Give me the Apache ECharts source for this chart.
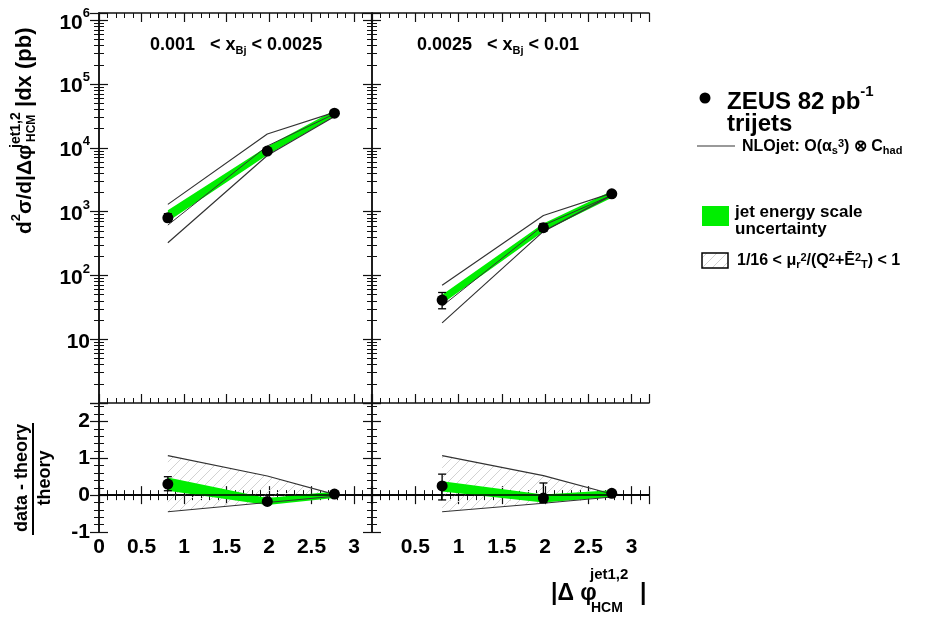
<!DOCTYPE html>
<html><head><meta charset="utf-8">
<script src="https://cdn.jsdelivr.net/npm/echarts@6/dist/echarts.min.js"></script>
<style>html,body{margin:0;padding:0;background:#fff}#c{width:927px;height:619px}</style>
</head><body><div id="c"></div>
<script>
// ---------- data ----------
const xBins = [0.81, 1.98, 2.77];
const xTicks = [0, 0.5, 1, 1.5, 2, 2.5, 3];
const panelTitles = [['0.001', '0.0025'], ['0.0025', '0.01']];
// top-left: cross sections (pb)
const dataTL = [800, 8900, 35000];
const errLoTL = [700, 8400, 33500];
const errHiTL = [930, 9400, 36500];
const nloTL = [615, 10700, 34000];
const nloUpTL = [1300, 16500, 36000];
const nloDnTL = [325, 7600, 31000];
const jesLoTL = [700, 7700, 31000];
const jesHiTL = [1050, 10500, 39000];
// top-right
const dataTR = [41, 560, 1900];
const errLoTR = [30, 490, 1800];
const errHiTR = [54, 650, 2000];
const nloTR = [33, 610, 1810];
const nloUpTR = [70, 870, 1950];
const nloDnTR = [18, 490, 1800];
const jesLoTR = [36, 490, 1650];
const jesHiTR = [50, 650, 2100];
// bottom-left: (data - theory)/theory
const ratioBL = [0.3, -0.17, 0.03];
const rErrLoBL = [0.12, -0.23, -0.02];
const rErrHiBL = [0.5, -0.11, 0.08];
const rJesLoBL = [0.12, -0.27, -0.08];
const rJesHiBL = [0.48, -0.08, 0.1];
const scaleUpBL = [1.07, 0.52, 0.02];
const scaleDnBL = [-0.45, -0.2, -0.03];
// bottom-right
const ratioBR = [0.25, -0.08, 0.05];
const rErrLoBR = [-0.13, -0.2, 0.0];
const rErrHiBR = [0.57, 0.33, 0.1];
const rJesLoBR = [0.1, -0.2, -0.05];
const rJesHiBR = [0.38, 0.02, 0.13];
const scaleUpBR = [1.07, 0.53, 0.03];
const scaleDnBR = [-0.45, -0.22, -0.05];

// ---------- helpers ----------
const FF = '"Liberation Sans", Arial, Helvetica, sans-serif';
const GREEN = '#00ee00';
const pc = document.createElement('canvas');
pc.width = 10; pc.height = 10;
(function(){const c = pc.getContext('2d'); c.strokeStyle = '#d2d2d2'; c.lineWidth = 1;
 c.beginPath(); c.moveTo(0, 10); c.lineTo(10, 0); c.moveTo(-1, 1); c.lineTo(1, -1); c.moveTo(9, 11); c.lineTo(11, 9); c.stroke();})();
const hatch = {image: pc, repeat: 'repeat'};

const grids = [
  {left: 99, top: 13, width: 272, height: 390},
  {left: 372, top: 13, width: 277, height: 390},
  {left: 99, top: 403, width: 272, height: 129},
  {left: 372, top: 403, width: 277, height: 129}
];
const lineAx = {show: true, lineStyle: {color: '#111', width: 1.5}};
const tickAx = {show: true, inside: true, length: 9, lineStyle: {color: '#111', width: 1.2}};
const minorAx = (n) => ({show: true, splitNumber: n, length: 5, lineStyle: {color: '#111', width: 1}});
const xAxes = [], yAxes = [];
function xFmt(hideZero) {
  return v => {
    if (Math.abs(v * 2 - Math.round(v * 2)) > 1e-6) return '';
    if (hideZero && Math.abs(v) < 1e-9) return '';
    return xTicks.includes(v) ? String(v) : '';
  };
}
for (let g = 0; g < 4; g++) {
  ['bottom', 'top'].forEach((pos, k) => {
    xAxes.push({gridIndex: g, type: 'value', min: 0, max: 3.2, interval: 0.5, position: pos,
      axisLine: lineAx, axisTick: tickAx, minorTick: minorAx(5), splitLine: {show: false},
      axisLabel: {show: g >= 2 && k === 0, formatter: xFmt(g === 3), margin: 5,
        fontSize: 21, fontWeight: 'bold', fontFamily: FF, color: '#000'}});
  });
  ['left', 'right'].forEach((pos, k) => {
    if (g < 2) {
      yAxes.push({gridIndex: g, type: 'log', logBase: 10, min: 1, max: 1.3e6, position: pos,
        axisLine: lineAx, axisTick: tickAx, minorTick: minorAx(9), splitLine: {show: false},
        axisLabel: {show: g === 0 && k === 0, margin: 9,
          formatter: v => { const l = Math.log10(v), n = Math.round(l);
            if (Math.abs(l - n) > 0.01 || n === 0) return '';
            if (n === 1) return '{b|10}';
            return '{b|10}{s|' + n + '}'; },
          rich: {b: {fontSize: 21, fontWeight: 'bold', fontFamily: FF, color: '#000', lineHeight: 26, verticalAlign: 'bottom'},
                 s: {fontSize: 13, fontWeight: 'bold', fontFamily: FF, color: '#000', lineHeight: 13, verticalAlign: 'top'}}}});
    } else {
      yAxes.push({gridIndex: g, type: 'value', min: -1, max: 2.5, interval: 1, position: pos,
        axisLine: lineAx, axisTick: tickAx, minorTick: minorAx(5), splitLine: {show: false},
        axisLabel: {show: g === 2 && k === 0, margin: 9,
          formatter: v => Number.isInteger(v) ? String(v) : '',
          fontSize: 21, fontWeight: 'bold', fontFamily: FF, color: '#000'}});
    }
  });
}

function band(g, lo, hi, style, z) {
  return {type: 'custom', xAxisIndex: 2 * g, yAxisIndex: 2 * g, z, silent: true, clip: true,
    data: xBins.map((x, i) => [x, lo[i], hi[i]]),
    renderItem(params, api) {
      if (params.dataIndex !== 0) return null;
      const pts = [];
      xBins.forEach((x, i) => pts.push(api.coord([x, hi[i]])));
      for (let i = xBins.length - 1; i >= 0; i--) pts.push(api.coord([xBins[i], lo[i]]));
      return {type: 'polygon', shape: {points: pts}, style};
    }};
}
function line(g, ys, color, width, z) {
  return {type: 'line', xAxisIndex: 2 * g, yAxisIndex: 2 * g, z, silent: true, symbol: 'none',
    data: xBins.map((x, i) => [x, ys[i]]), lineStyle: {color, width}, animation: false};
}
function errs(g, lo, hi) {
  return {type: 'custom', xAxisIndex: 2 * g, yAxisIndex: 2 * g, z: 8, silent: true,
    data: xBins.map((x, i) => [x, lo[i], hi[i]]),
    renderItem(params, api) {
      const x = api.value(0);
      const a = api.coord([x, api.value(1)]), b = api.coord([x, api.value(2)]);
      const st = {stroke: '#000', lineWidth: 1.3};
      return {type: 'group', children: [
        {type: 'line', shape: {x1: a[0], y1: a[1], x2: b[0], y2: b[1]}, style: st},
        {type: 'line', shape: {x1: a[0] - 4, y1: a[1], x2: a[0] + 4, y2: a[1]}, style: st},
        {type: 'line', shape: {x1: b[0] - 4, y1: b[1], x2: b[0] + 4, y2: b[1]}, style: st}]};
    }};
}
function pts(g, ys, zero) {
  const s = {type: 'scatter', xAxisIndex: 2 * g, yAxisIndex: 2 * g, z: 10, silent: true,
    symbol: 'circle', symbolSize: 11, itemStyle: {color: '#000', opacity: 1},
    data: xBins.map((x, i) => [x, ys[i]])};
  if (zero) s.markLine = {silent: true, symbol: 'none', label: {show: false}, animation: false,
    lineStyle: {color: '#000', width: 1.5, type: 'solid'}, data: [{yAxis: 0}]};
  return s;
}

const series = [
  band(0, jesLoTL, jesHiTL, {fill: GREEN}, 3),
  line(0, nloTL, '#333', 1, 4), line(0, nloUpTL, '#333', 1.2, 4), line(0, nloDnTL, '#333', 1.2, 4),
  errs(0, errLoTL, errHiTL), pts(0, dataTL),
  band(1, jesLoTR, jesHiTR, {fill: GREEN}, 3),
  line(1, nloTR, '#333', 1, 4), line(1, nloUpTR, '#333', 1.2, 4), line(1, nloDnTR, '#333', 1.2, 4),
  errs(1, errLoTR, errHiTR), pts(1, dataTR),
  band(2, scaleDnBL, scaleUpBL, {fill: hatch}, 1),
  line(2, scaleUpBL, '#333', 1.2, 4), line(2, scaleDnBL, '#333', 1.2, 4),
  band(2, rJesLoBL, rJesHiBL, {fill: GREEN}, 3),
  errs(2, rErrLoBL, rErrHiBL), pts(2, ratioBL, true),
  band(3, scaleDnBR, scaleUpBR, {fill: hatch}, 1),
  line(3, scaleUpBR, '#333', 1.2, 4), line(3, scaleDnBR, '#333', 1.2, 4),
  band(3, rJesLoBR, rJesHiBR, {fill: GREEN}, 3),
  errs(3, rErrLoBR, rErrHiBR), pts(3, ratioBR, true)
];

// ---------- text ----------
const R = {
  m: {fontSize: 21, fontWeight: 'bold', fontFamily: FF, fill: '#000', lineHeight: 26, verticalAlign: 'bottom'},
  s: {fontSize: 13, fontWeight: 'bold', fontFamily: FF, fill: '#000', lineHeight: 13, verticalAlign: 'top'},
  t: {fontSize: 18, fontWeight: 'bold', fontFamily: FF, fill: '#000', lineHeight: 20, verticalAlign: 'top'},
  u: {fontSize: 11, fontWeight: 'bold', fontFamily: FF, fill: '#000', lineHeight: 11, verticalAlign: 'bottom', padding: [15, 0, 0, 0]},
  L: {fontSize: 24, fontWeight: 'bold', fontFamily: FF, fill: '#000', lineHeight: 30, verticalAlign: 'bottom'},
  Ls: {fontSize: 15, fontWeight: 'bold', fontFamily: FF, fill: '#000', lineHeight: 15, verticalAlign: 'top'},
  n: {fontSize: 16, fontWeight: 'bold', fontFamily: FF, fill: '#000', lineHeight: 18, verticalAlign: 'middle'},
  nsup: {fontSize: 11, fontWeight: 'bold', fontFamily: FF, fill: '#000', lineHeight: 10, verticalAlign: 'top'},
  nsub: {fontSize: 11, fontWeight: 'bold', fontFamily: FF, fill: '#000', lineHeight: 10, verticalAlign: 'bottom'}
};
function txt(x, y, text, opt) {
  opt = opt || {};
  return {type: 'text', x, y, rotation: opt.rot || 0, silent: true, z: 50,
    style: {text, rich: R, fontSize: opt.fs || 16, fontWeight: 'bold', fontFamily: FF, fill: '#000',
      align: opt.align || 'left', verticalAlign: opt.va || 'middle'}};
}
const rot = Math.PI / 2;
const graphics = [
  // y title top
  txt(23, 234, '{m|d}{s|2}{m|σ/d|Δφ}', {rot}),
  txt(16, 148, 'jet1,2', {rot, fs: 14}),
  txt(32, 142, 'HCM', {rot, fs: 12}),
  txt(25, 107, '|dx (pb)', {rot, fs: 22}),
  // ratio title
  txt(22, 478, 'data - theory', {rot, fs: 18, align: 'center'}),
  {type: 'line', shape: {x1: 33, y1: 423, x2: 33, y2: 535}, style: {stroke: '#000', lineWidth: 2}, silent: true},
  txt(45, 478, 'theory', {rot, fs: 18, align: 'center'}),
  // panel titles
  txt(150, 46, '{t|' + panelTitles[0][0] + '   < x}{u|Bj}{t| < ' + panelTitles[0][1] + '}'),
  txt(417, 46, '{t|' + panelTitles[1][0] + '   < x}{u|Bj}{t| < ' + panelTitles[1][1] + '}'),
  // x title
  txt(551, 594, '|Δ φ', {fs: 23}),
  txt(590, 575, 'jet1,2', {fs: 15}),
  txt(591, 608, 'HCM', {fs: 14}),
  txt(640, 594, '|', {fs: 23}),
  // legend
  {type: 'circle', shape: {cx: 705, cy: 98, r: 5.5}, style: {fill: '#000'}, silent: true},
  txt(727, 99, '{L|ZEUS 82 pb}{Ls|-1}'),
  txt(727, 124, 'trijets', {fs: 24}),
  {type: 'line', shape: {x1: 697, y1: 146, x2: 735, y2: 146}, style: {stroke: '#999', lineWidth: 2}, silent: true},
  txt(742, 147, '{n|NLOjet: O(α}{nsub|s}{nsup|3}{n|) ⊗ C}{nsub|had}'),
  {type: 'rect', shape: {x: 702, y: 206, width: 27, height: 20}, style: {fill: GREEN}, silent: true},
  txt(735, 212, 'jet energy scale', {fs: 17}),
  txt(735, 229, 'uncertainty', {fs: 17}),
  {type: 'rect', shape: {x: 702, y: 253, width: 26, height: 15}, style: {fill: hatch, stroke: '#000', lineWidth: 1.5}, silent: true},
  txt(737, 261, '{n|1/16 < μ}{nsub|r}{nsup|2}{n|/(Q}{nsup|2}{n|+Ē}{nsup|2}{nsub|T}{n|) < 1}')
];

const chart = echarts.init(document.getElementById('c'), null, {renderer: 'canvas'});
chart.setOption({
  animation: false,
  backgroundColor: '#fff',
  grid: grids,
  xAxis: xAxes,
  yAxis: yAxes,
  series,
  graphic: graphics
});
</script>
</body></html>
